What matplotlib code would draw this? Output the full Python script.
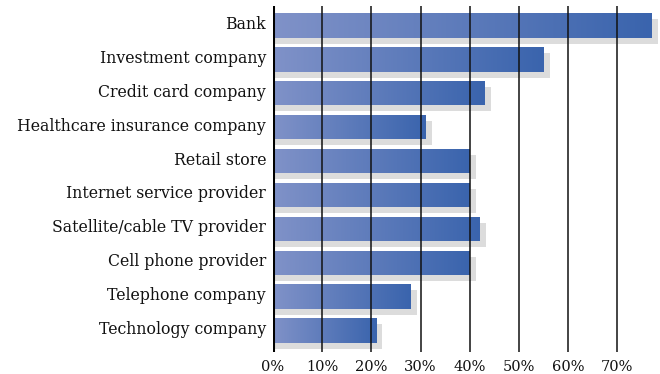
import numpy as np
import matplotlib
matplotlib.use("Agg")
import matplotlib.pyplot as plt
from matplotlib.colors import LinearSegmentedColormap
from matplotlib.patches import Rectangle
import matplotlib.transforms as mtransforms

categories = ["Bank", "Investment company", "Credit card company",
              "Healthcare insurance company", "Retail store",
              "Internet service provider", "Satellite/cable TV provider",
              "Cell phone provider", "Telephone company", "Technology company"]
values = [77, 55, 43, 31, 40, 40, 42, 40, 28, 21]
xticks = [0, 10, 20, 30, 40, 50, 60, 70]
xticklabels = ["0%", "10%", "20%", "30%", "40%", "50%", "60%", "70%"]

plt.rcParams['font.family'] = ['DejaVu Serif']
W, H = 660, 374
fig = plt.figure(figsize=(W / 100, H / 100), dpi=100)
ax_left, ax_right, ax_top, ax_bot = 273, 660, 6, 352
ax = fig.add_axes([ax_left / W, 1 - ax_bot / H, (ax_right - ax_left) / W, (ax_bot - ax_top) / H])

px_per_unit = 4.92
xmax = (ax_right - ax_left) / px_per_unit
pitch = 33.9
y_first, y_last = 25.5, 330.5
ylim_top = -(y_first - ax_top) / pitch
ylim_bot = 9 + (ax_bot - y_last) / pitch
ax.set_xlim(0, xmax)
ax.set_ylim(ylim_bot, ylim_top)

bar_h = 24.4 / pitch
shadow_px = 6
shadow_dx = shadow_px / px_per_unit
cmap = LinearSegmentedColormap.from_list("g", ["#8092C8", "#3A64AD"])
grad = np.linspace(0, 1, 256).reshape(1, -1)
ypos = np.arange(len(categories))

shadow_tr = ax.transData + mtransforms.ScaledTranslation(0, -shadow_px / 100, fig.dpi_scale_trans)
for y, v in zip(ypos, values):
    ax.barh(y, v + shadow_dx, height=bar_h, left=0, color="#DCDCDC",
            transform=shadow_tr, zorder=1)
for y, v in zip(ypos, values):
    rect = Rectangle((0, y - bar_h / 2), v, bar_h, facecolor="none",
                     edgecolor="none", transform=ax.transData)
    ax.add_patch(rect)
    im = ax.imshow(grad, cmap=cmap, aspect="auto",
                   extent=(0, v, y + bar_h / 2, y - bar_h / 2),
                   interpolation="bicubic", zorder=2)
    im.set_clip_path(rect)
ax.set_xlim(0, xmax)
ax.set_ylim(ylim_bot, ylim_top)

for x in xticks[1:]:
    ax.axvline(x, color="#111111", lw=1.1, zorder=3)
ax.axvline(0, color="black", lw=2.2, zorder=4)

for s in ax.spines.values():
    s.set_visible(False)
ax.set_yticks(ypos)
ax.set_yticklabels(categories, fontsize=11.3, color="#111111")
ax.set_xticks(xticks)
ax.set_xticklabels(xticklabels, fontsize=10.5, color="#111111")
ax.tick_params(axis="both", length=0)
ax.tick_params(axis="y", pad=5)
ax.tick_params(axis="x", pad=6)
up = mtransforms.ScaledTranslation(0, 3 / 100, fig.dpi_scale_trans)
for lbl in ax.get_yticklabels():
    lbl.set_transform(lbl.get_transform() + up)

fig.savefig("out.png", dpi=100)
